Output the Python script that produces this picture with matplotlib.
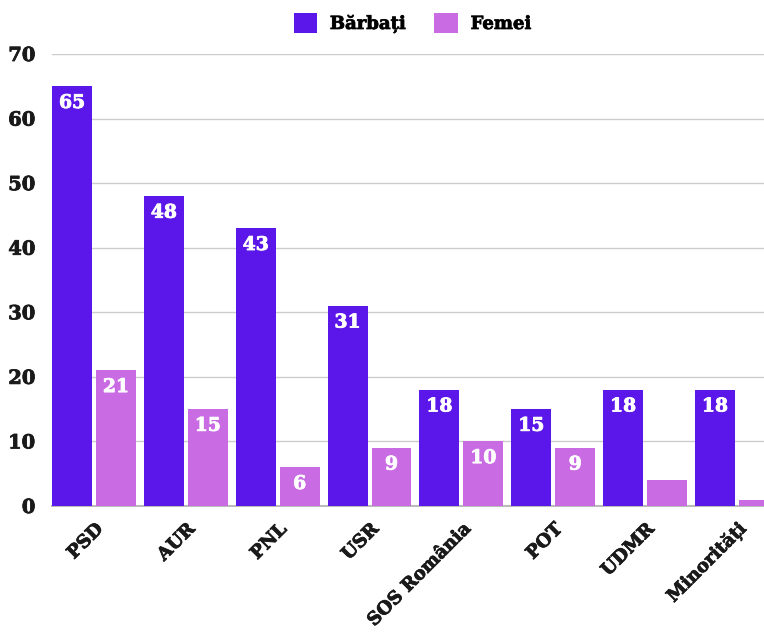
import numpy as np
import matplotlib
matplotlib.use('Agg')
import matplotlib.pyplot as plt
import matplotlib.patheffects as pe

parties = ['PSD', 'AUR', 'PNL', 'USR', 'SOS România', 'POT', 'UDMR', 'Minorități']
barbati = [65, 48, 43, 31, 18, 15, 18, 18]
femei = [21, 15, 6, 9, 10, 9, 4, 1]
y_ticks = [0, 10, 20, 30, 40, 50, 60, 70]

col_b = '#5B16E9'
col_f = '#C96CE4'

plt.rcParams['font.family'] = ['DejaVu Serif']
plt.rcParams['font.weight'] = 'bold'

fig = plt.figure(figsize=(7.64, 6.32), dpi=100)
ax = fig.add_axes([52/764, 1-506/632, 1-52/764, (506-54)/632])

x = np.arange(len(parties))
w = 0.435
off = 0.239
bars_b = ax.bar(x - off, barbati, w, color=col_b, label='Bărbați', zorder=3)
bars_f = ax.bar(x + off, femei, w, color=col_f, label='Femei', zorder=3)

heavy = [pe.withStroke(linewidth=0.6, foreground='white')]
dark = [pe.withStroke(linewidth=0.6, foreground='#1a1a1a')]

#value labels inside the top of each bar
for bars, vals in [(bars_b, barbati), (bars_f, femei)]:
	for b, v in zip(bars, vals):
		if v < 5:
			continue
		ax.annotate(str(v), (b.get_x() + b.get_width()/2, v), xytext=(0, -12),
			textcoords='offset points', ha='center', va='center',
			color='white', fontsize=13.5, fontweight='bold', zorder=4,
			path_effects=heavy)

ax.set_xlim(-0.457, 7.294)
ax.set_ylim(0, 70)
ax.set_yticks(y_ticks)
ax.yaxis.grid(True, color='#cccccc', linewidth=1, zorder=0)
ax.set_axisbelow(True)
for s in ['top', 'right', 'left']:
	ax.spines[s].set_visible(False)
ax.spines['bottom'].set_color('#bbbbbb')
ax.spines['bottom'].set_linewidth(1.5)
ax.tick_params(axis='both', length=0, labelsize=14, labelcolor='#1a1a1a')
ax.tick_params(axis='y', pad=12)
ax.set_xticks(x)
ax.set_xticklabels(parties, rotation=45, ha='right', rotation_mode='anchor', fontweight='bold')
ax.tick_params(axis='x', pad=10, labelsize=13)
for t in ax.get_yticklabels() + ax.get_xticklabels():
	t.set_fontweight('bold')
	t.set_path_effects(dark)

leg = fig.legend(handles=[bars_b, bars_f], loc='upper center', bbox_to_anchor=(0.54, 1.005),
	ncol=2, frameon=False, fontsize=13, handlelength=1.3, handleheight=1.3,
	columnspacing=1.6, handletextpad=0.7)
for t in leg.get_texts():
	t.set_fontweight('bold')
	t.set_path_effects(dark)

fig.savefig('out.png', dpi=100)
